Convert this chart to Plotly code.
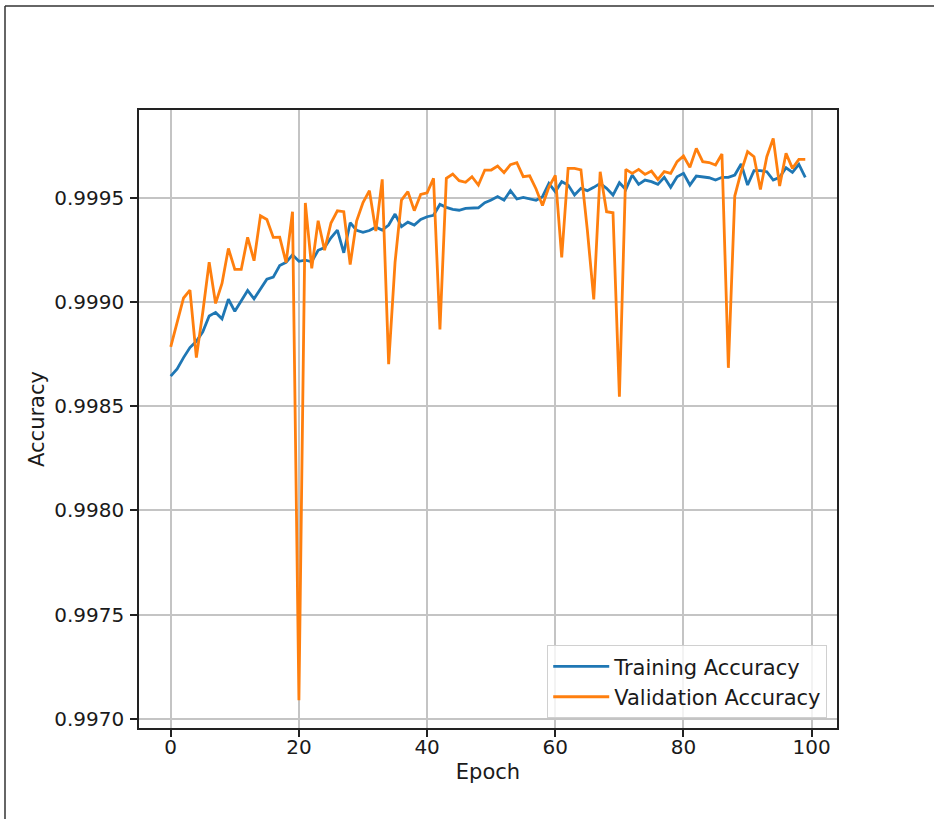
import plotly.graph_objects as go

epochs = list(range(100))

training_accuracy = [
    0.998644, 0.998679, 0.998733, 0.998781, 0.998811, 0.998857, 0.998933, 0.998950, 0.998919, 0.999013,
    0.998955, 0.999004, 0.999055, 0.999015, 0.999065, 0.999109, 0.999119, 0.999175, 0.999190, 0.999226,
    0.999195, 0.999201, 0.999193, 0.999248, 0.999261, 0.999308, 0.999345, 0.999236, 0.999380, 0.999344,
    0.999334, 0.999343, 0.999359, 0.999345, 0.999369, 0.999422, 0.999361, 0.999383, 0.999369, 0.999396,
    0.999409, 0.999416, 0.999468, 0.999454, 0.999444, 0.999440, 0.999449, 0.999452, 0.999452, 0.999476,
    0.999489, 0.999506, 0.999488, 0.999534, 0.999494, 0.999502, 0.999495, 0.999488, 0.999505, 0.999569,
    0.999529, 0.999577, 0.999561, 0.999513, 0.999545, 0.999534, 0.999550, 0.999569, 0.999545, 0.999513,
    0.999572, 0.999540, 0.999609, 0.999564, 0.999585, 0.999577, 0.999564, 0.999598, 0.999550, 0.999601,
    0.999617, 0.999561, 0.999604, 0.999601, 0.999596, 0.999585, 0.999598, 0.999598, 0.999609, 0.999662,
    0.999561, 0.999630, 0.999630, 0.999625, 0.999585, 0.999598, 0.999644, 0.999622, 0.999660, 0.999598,
]

validation_accuracy = [
    0.998785, 0.998905, 0.999019, 0.999057, 0.998733, 0.998951, 0.999191, 0.998993, 0.999089, 0.999257,
    0.999156, 0.999156, 0.999310, 0.999198, 0.999414, 0.999396, 0.999310, 0.999311, 0.999189, 0.999433,
    0.997089, 0.999475, 0.999161, 0.999390, 0.999248, 0.999379, 0.999437, 0.999433, 0.999179, 0.999388,
    0.999477, 0.999534, 0.999340, 0.999588, 0.998702, 0.999191, 0.999489, 0.999529, 0.999438, 0.999516,
    0.999524, 0.999593, 0.998868, 0.999593, 0.999614, 0.999582, 0.999574, 0.999601, 0.999561, 0.999633,
    0.999633, 0.999652, 0.999620, 0.999659, 0.999668, 0.999601, 0.999605, 0.999542, 0.999463, 0.999551,
    0.999607, 0.999214, 0.999641, 0.999641, 0.999634, 0.999345, 0.999012, 0.999625, 0.999433, 0.999428,
    0.998545, 0.999636, 0.999617, 0.999636, 0.999612, 0.999628, 0.999588, 0.999625, 0.999617, 0.999673,
    0.999700, 0.999646, 0.999737, 0.999673, 0.999669, 0.999657, 0.999710, 0.998684, 0.999508, 0.999625,
    0.999721, 0.999697, 0.999540, 0.999697, 0.999785, 0.999556, 0.999713, 0.999641, 0.999684, 0.999684,
]

x_ticks = [0, 20, 40, 60, 80, 100]
y_ticks = [0.9970, 0.9975, 0.9980, 0.9985, 0.9990, 0.9995]

W, H = 934, 819
L, R, T, B = 139, 97, 110, 91

fig = go.Figure()
fig.add_trace(go.Scatter(x=epochs, y=training_accuracy, mode="lines",
                         name="Training Accuracy",
                         line=dict(color="#1f77b4", width=2.8)))
fig.add_trace(go.Scatter(x=epochs, y=validation_accuracy, mode="lines",
                         name="Validation Accuracy",
                         line=dict(color="#ff7f0e", width=2.8)))

font = dict(family="DejaVu Sans", size=21, color="#1a1a1a")
tickfont = dict(family="DejaVu Sans", size=20, color="#1a1a1a")

fig.update_layout(
    width=W, height=H,
    margin=dict(l=L, r=R, t=T, b=B, pad=0),
    paper_bgcolor="white", plot_bgcolor="white",
    font=font,
    showlegend=True,
    legend=dict(
        x=0.986, y=0.0157, xanchor="right", yanchor="bottom",
        bgcolor="rgba(255,255,255,0.8)", bordercolor="#d0d0d0", borderwidth=1,
        font=dict(family="DejaVu Sans", size=21, color="#1a1a1a"),
        itemwidth=56,
        tracegroupgap=2,
    ),
    xaxis=dict(
        range=[-4.95, 103.95], tickvals=x_ticks, ticktext=[str(v) for v in x_ticks],
        tickfont=tickfont,
        showgrid=True, gridcolor="#c4c4c4", gridwidth=1.5,
        showline=True, linecolor="#222222", linewidth=1.6, mirror=True,
        ticks="outside", ticklen=7, tickwidth=1.6, tickcolor="#222222",
        ticklabelstandoff=-7,
        zeroline=False,
        title=dict(text="Epoch", standoff=7, font=font),
        automargin=False,
    ),
    yaxis=dict(
        range=[0.996956, 0.999921], tickvals=y_ticks,
        ticktext=[f"{v:.4f}" for v in y_ticks],
        tickfont=tickfont,
        showgrid=True, gridcolor="#c4c4c4", gridwidth=1.5,
        showline=True, linecolor="#222222", linewidth=1.6, mirror=True,
        ticks="outside", ticklen=7, tickwidth=1.6, tickcolor="#222222",
        ticklabelstandoff=2,
        zeroline=False,
        title=dict(text="Accuracy", standoff=4, font=font),
        automargin=False,
    ),
)

# outer frame (left and top border of the screenshot)
pw = W - L - R
ph = H - T - B
def px_x(p):
    return (p - L) / pw
def px_y(p):
    return (H - B - p) / ph
fig.add_shape(type="line", xref="paper", yref="paper",
              x0=px_x(5), x1=px_x(5), y0=px_y(6), y1=px_y(H + 5),
              line=dict(color="#333333", width=1.5))
fig.add_shape(type="line", xref="paper", yref="paper",
              x0=px_x(5), x1=px_x(W + 5), y0=px_y(6), y1=px_y(6),
              line=dict(color="#333333", width=1.5))

fig.write_html("out.html")
